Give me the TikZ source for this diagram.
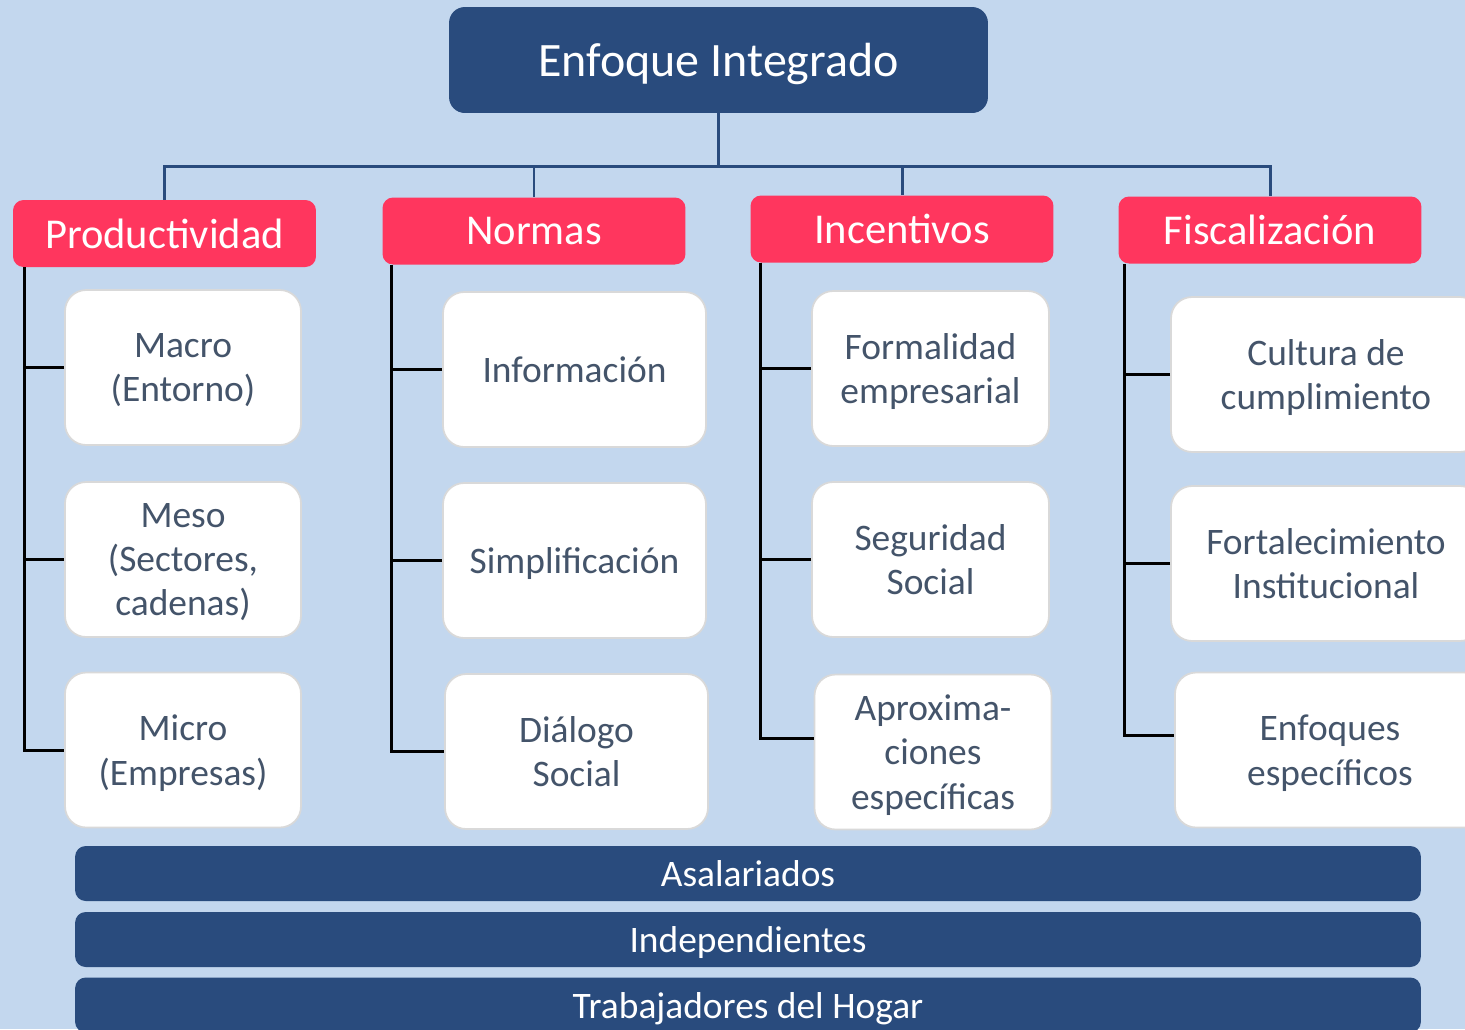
\documentclass[tikz,border=0pt]{standalone}
\usepackage{fontspec}
\setmainfont{Carlito}
\definecolor{bgblue}{RGB}{195, 215, 238}
\definecolor{navy1}{RGB}{41, 75, 125}
\definecolor{pinkred}{RGB}{255, 54, 94}
\definecolor{slate1}{RGB}{68, 84, 106}
\definecolor{edgegray}{RGB}{217, 217, 217}
\usepackage{tikz}
\usetikzlibrary{positioning, calc}

\tikzset{
  topbox/.style={fill=navy1, rounded corners=9pt, minimum width=10.78cm, minimum height=2.12cm, inner sep=0pt, text depth=0pt, text=white, font=\fontsize{27.3}{31}\selectfont},
  headbox/.style={fill=pinkred, rounded corners=6pt, minimum width=6.06cm, minimum height=1.34cm, inner sep=0pt, text=white, font=\fontsize{24.2}{28}\selectfont},
  itembox/.style={draw=edgegray, line width=1pt, fill=white, rounded corners=12pt, minimum height=3.1cm, inner sep=0pt, text depth=0pt, align=center, text=slate1, font=\fontsize{21.3}{25.3}\selectfont},
  barbox/.style={fill=navy1, rounded corners=6pt, minimum width=26.92cm, minimum height=1.1cm, inner sep=0pt, text depth=0pt, text=white, font=\fontsize{21.3}{25}\selectfont},
  tree/.style={draw=navy1, line width=1.7pt},
  brk/.style={draw=black, line width=1.7pt}
}

\begin{document}
\begin{tikzpicture}[x=0.02cm, y=-0.02cm]
  \fill[bgblue] (0,0) rectangle (1465,1029);
  \useasboundingbox (0,0) rectangle (1465,1029);

  % Top box
  \node[topbox] (top) at (718.5, 60) {Enfoque Integrado};
  \coordinate (hub) at (718.5, 166);

  % Headers
  \node[headbox] (prod) at (164.5, 233.5) {Productividad};
  \node[headbox] (norm) at (534, 231) {Normas};
  \node[headbox] (inc) at (902, 229) {Incentivos};
  \node[headbox] (fisc) at (1270, 230) {Fiscalización};

  \draw[tree] (top.south) -- (hub);
  \foreach \h in {prod, norm, inc, fisc}
    \draw[tree] (\h.north) |- (hub);

  % Productividad
  \node[itembox, minimum width=4.72cm] (mac) at (183, 367.5) {Macro\\(Entorno)};
  \node[itembox, minimum width=4.72cm] (mes) at (183, 559.5) {Meso\\(Sectores,\\cadenas)};
  \node[itembox, minimum width=4.72cm] (mic) at (183, 750) {Micro\\(Empresas)};

  % Normas
  \node[itembox, minimum width=5.26cm] (info) at (574.5, 369.5) {Información};
  \node[itembox, minimum width=5.26cm] (simp) at (574.5, 560.5) {Simplificación};
  \node[itembox, minimum width=5.26cm] (dial) at (576.5, 751.5) {Diálogo\\Social};

  % Incentivos
  \node[itembox, minimum width=4.74cm] (form) at (930.5, 368.5) {Formalidad\\empresarial};
  \node[itembox, minimum width=4.74cm] (seg) at (930.5, 559.5) {Seguridad\\Social};
  \node[itembox, minimum width=4.74cm] (aprox) at (933, 752) {Aproxima-\\ciones\\específicas};

  % Fiscalizacion
  \node[itembox, minimum width=6.2cm] (cult) at (1326, 374.5) {Cultura de\\cumplimiento};
  \node[itembox, minimum width=6.2cm] (fort) at (1326, 563.5) {Fortalecimiento\\Institucional};
  \node[itembox, minimum width=6.2cm] (enf) at (1330, 750) {Enfoques\\específicos};

  % Brackets
  \draw[brk] ([xshift=0.24cm]prod.south west) coordinate (pv) |- (mic.west);
  \draw[brk] (mac.west) -- (mac.west -| pv);
  \draw[brk] (mes.west) -- (mes.west -| pv);
  \draw[brk] ([xshift=0.18cm]norm.south west) coordinate (nv) |- (dial.west);
  \draw[brk] (info.west) -- (info.west -| nv);
  \draw[brk] (simp.west) -- (simp.west -| nv);
  \draw[brk] ([xshift=0.2cm]inc.south west) coordinate (iv) |- ([yshift=0.28cm]aprox.west);
  \draw[brk] (form.west) -- (form.west -| iv);
  \draw[brk] (seg.west) -- (seg.west -| iv);
  \draw[brk] ([xshift=0.12cm]fisc.south west) coordinate (fv) |- ([yshift=0.3cm]enf.west);
  \draw[brk] (cult.west) -- (cult.west -| fv);
  \draw[brk] (fort.west) -- (fort.west -| fv);

  % Bottom bars
  \node[barbox] (asal) at (748, 873.5) {Asalariados};
  \node[barbox] (indep) at (748, 939.5) {Independientes};
  \node[barbox] (hogar) at (748, 1005) {Trabajadores del Hogar};
\end{tikzpicture}
\end{document}
